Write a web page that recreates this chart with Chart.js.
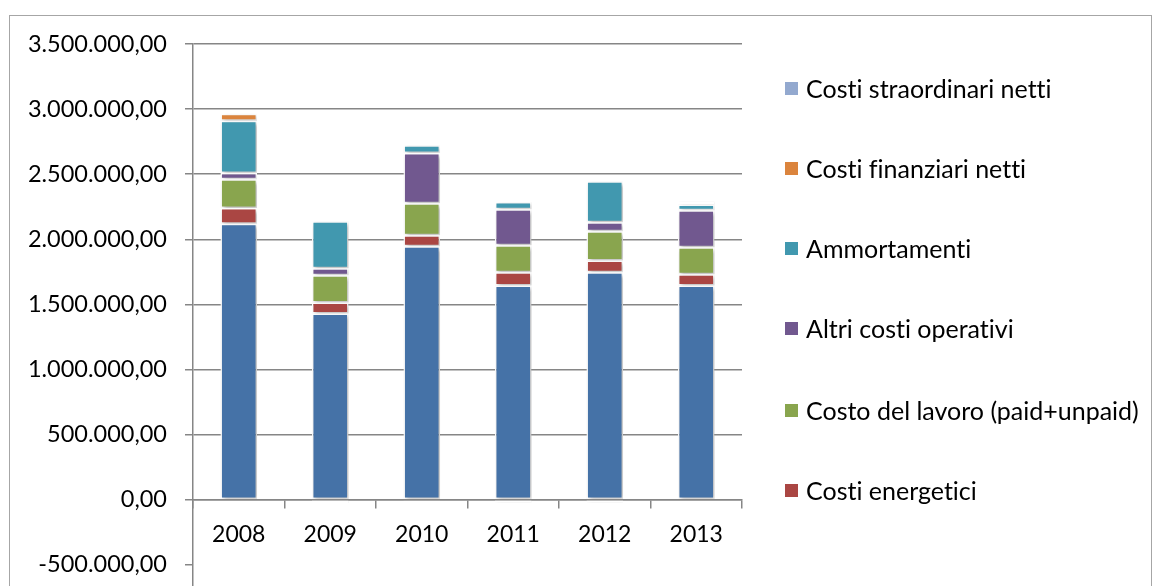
<!DOCTYPE html>
<html>
<head>
<meta charset="utf-8">
<script src="https://cdn.jsdelivr.net/npm/chart.js@4"></script>
<style>
    html, body { margin: 0; padding: 0; background: #fff; overflow: hidden; }
    #frame { position: absolute; left: 9px; top: 15px; width: 1141px; height: 600px; border: 1.5px solid #a6a6a6; }
    #wrap { position: absolute; left: 0; top: 0; width: 1153px; height: 662px; }
    #legend { position: absolute; left: 785px; top: 0; font-family: Lato, sans-serif; font-size: 25px; color: #000; font-variant-ligatures: none; }
    .item { position: absolute; left: 0; white-space: nowrap; display: flex; align-items: center; height: 30px; }
    .item span.box { width: 13px; height: 13px; margin-right: 8px; display: inline-block; }
</style>
</head>
<body>
<div id="frame"></div>
<div id="wrap"><canvas id="costChart" width="1153" height="662"></canvas></div>
<div id="legend"></div>
<script>
// Values (euro)
const years = ['2008', '2009', '2010', '2011', '2012', '2013'];
const costiBase = [2120000, 1430000, 1946000, 1646000, 1746000, 1646000];
const costiEnergetici = [120000, 85000, 85000, 100000, 92000, 85000];
const costoLavoro = [222000, 208000, 246000, 208000, 224000, 207000];
const altriCosti = [48000, 54000, 385000, 277000, 69000, 285000];
const ammortamenti = [400000, 361000, 61000, 55000, 315000, 45000];
const costiFinanziari = [54000, -25000, -8000, -22000, -22000, 22000];
const costiStraordinari = [0, 0, 0, 0, 0, 0];
const yTicks = [3500000, 3000000, 2500000, 2000000, 1500000, 1000000, 500000, 0, -500000];

const series = [
    { label: 'Costi materie prime e servizi', data: costiBase, color: '#4572A7', legend: false },
    { label: 'Costi energetici', data: costiEnergetici, color: '#AA4643', legend: true },
    { label: 'Costo del lavoro (paid+unpaid)', data: costoLavoro, color: '#89A54E', legend: true },
    { label: 'Altri costi operativi', data: altriCosti, color: '#71588F', legend: true },
    { label: 'Ammortamenti', data: ammortamenti, color: '#4198AF', legend: true },
    { label: 'Costi finanziari netti', data: costiFinanziari, color: '#DB843D', legend: true },
    { label: 'Costi straordinari netti', data: costiStraordinari, color: '#93A9CF', legend: true }
];

function formatIt(v) {
    const neg = v < 0;
    const s = Math.abs(Math.round(v)).toString().replace(/\B(?=(\d{3})+(?!\d))/g, '.');
    return (neg ? '-' : '') + s + ',00';
}

// soft shadow like the Excel bars
const shadowPlugin = {
    id: 'barShadow',
    beforeDatasetsDraw(chart) {
        const ctx = chart.ctx;
        ctx.save();
        ctx.shadowColor = 'rgba(0,0,0,0.28)';
        ctx.shadowBlur = 4;
        ctx.shadowOffsetX = 2;
        ctx.shadowOffsetY = 2;
    },
    afterDatasetsDraw(chart) {
        chart.ctx.restore();
    }
};

const ctx = document.getElementById('costChart').getContext('2d');
const costChart = new Chart(ctx, {
    type: 'bar',
    data: {
        labels: years,
        datasets: series.map(s => ({
            label: s.label,
            data: s.data,
            backgroundColor: s.color,
            borderColor: '#ffffff',
            borderWidth: 1.5,
            borderSkipped: false,
            categoryPercentage: 1,
            barPercentage: 0.4
        }))
    },
    options: {
        responsive: false,
        animation: false,
        layout: { padding: { left: 0, right: 411, top: 44, bottom: 21 } },
        plugins: {
            legend: { display: false },
            tooltip: { enabled: false }
        },
        scales: {
            x: {
                stacked: true,
                position: { y: 0 },
                grid: {
                    drawOnChartArea: false,
                    drawTicks: true,
                    tickLength: 8,
                    offset: true,
                    color: '#868686',
                    lineWidth: 1.5
                },
                border: { color: '#868686', width: 1.5 },
                ticks: {
                    padding: 13,
                    color: '#000',
                    font: { family: 'Lato', size: 23 }
                }
            },
            y: {
                stacked: true,
                min: -1000000,
                max: 3500000,
                afterBuildTicks: scale => {
                    scale.ticks = yTicks.map(v => ({ value: v }));
                },
                afterFit: scale => { scale.width = 193; },
                grid: {
                    color: c => (c.tick && c.tick.value < 0) ? 'rgba(0,0,0,0)' : '#868686',
                    tickColor: '#868686',
                    lineWidth: 1.5,
                    tickLength: 8
                },
                border: { color: '#868686', width: 1.5 },
                ticks: {
                    padding: 18,
                    color: '#000',
                    font: { family: 'Lato', size: 23.5 },
                    callback: v => formatIt(v)
                }
            }
        }
    },
    plugins: [shadowPlugin]
});

// legend, top to bottom as in the picture
const legendDiv = document.getElementById('legend');
const legendY = [88, 168, 248, 328, 410, 490];
series.filter(s => s.legend).reverse().forEach((s, i) => {
    const el = document.createElement('div');
    el.className = 'item';
    el.style.top = (legendY[i] - 15) + 'px';
    el.innerHTML = '<span class="box" style="background:' + s.color + '"></span>' + s.label;
    legendDiv.appendChild(el);
});
</script>
</body>
</html>
